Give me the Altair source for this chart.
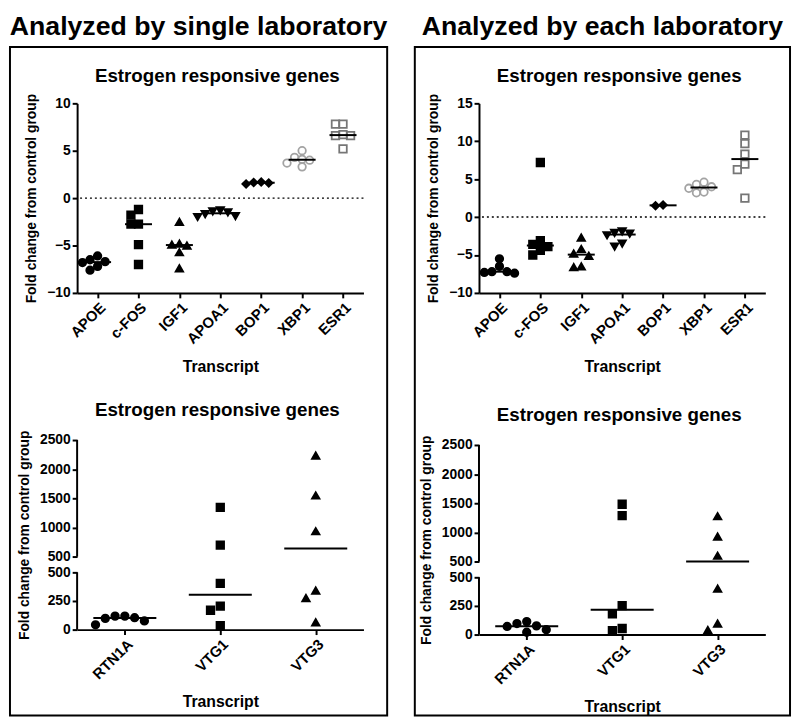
import json
import numpy as np
import pandas as pd
import altair as alt

FONT = "Liberation Sans"

# ---------------- data ----------------
genes_top = ["APOE", "c-FOS", "IGF1", "APOA1", "BOP1", "XBP1", "ESR1"]
genes_bot = ["RTN1A", "VTG1", "VTG3"]

single_apoe = [-6.1, -6.5, -6.7, -6.8, -7.2, -7.6]
single_cfos = [-1.2, -1.8, -2.75, -2.75, -4.9, -7.0]
single_igf1 = [-2.5, -4.8, -4.9, -5.0, -5.7, -7.4]
single_apoa1 = [-1.3, -1.4, -1.5, -1.7, -1.9, -2.0]
single_bop1 = [1.5, 1.6, 1.65, 1.7]
single_xbp1 = [5.0, 4.3, 4.1, 4.0, 3.7, 3.3]
single_esr1 = [7.8, 7.8, 6.7, 6.6, 6.6, 5.2]

each_apoe = [-5.5, -6.5, -7.2, -7.2, -7.3, -7.4]
each_cfos = [7.2, -3.1, -3.6, -3.9, -4.4, -5.0]
each_igf1 = [-2.7, -4.2, -4.8, -5.1, -6.5, -6.6]
each_apoa1 = [-1.9, -2.1, -2.2, -2.4, -3.5, -3.9]
each_bop1 = [1.5, 1.6]
each_xbp1 = [4.6, 4.3, 4.0, 3.8, 3.3, 3.2]
each_esr1 = [10.8, 9.7, 8.3, 7.0, 6.25, 2.5]

single_rtn1a = [118, 98, 42, 76, 104, 118]
single_vtg1 = [1343, 695, 403, 206, 169, 34]
single_vtg3 = [2235, 1549, 935, 341, 276, 64]

each_rtn1a = [96, 76, 20, 42, 71, 113]
each_vtg1 = [1483, 1289, 252, 181, 53, 34]
each_vtg3 = [1278, 928, 600, 401, 96, 40]

single_top = dict(zip(genes_top, [single_apoe, single_cfos, single_igf1, single_apoa1,
                                  single_bop1, single_xbp1, single_esr1]))
each_top = dict(zip(genes_top, [each_apoe, each_cfos, each_igf1, each_apoa1,
                                each_bop1, each_xbp1, each_esr1]))
single_bot = dict(zip(genes_bot, [single_rtn1a, single_vtg1, single_vtg3]))
each_bot = dict(zip(genes_bot, [each_rtn1a, each_vtg1, each_vtg3]))

top_ticks_single = [-10, -5, 0, 5, 10]
top_ticks_each = [-10, -5, 0, 5, 10, 15]
bot_lower_ticks = [0, 250, 500]
bot_upper_ticks = [500, 1000, 1500, 2000, 2500]

SUBTITLE = "Estrogen responsive genes"
YTITLE = "Fold change from control group"
XTITLE = "Transcript"

# ---------------- styling ----------------
top_shapes = ["circle", "square", "triangle-up", "triangle-down", "diamond", "circle", "square"]
top_fills = ["black", "black", "black", "black", "black", "transparent", "transparent"]
top_strokes = ["black", "black", "black", "black", "black", "#a3a3a3", "#767676"]
bot_shapes = ["circle", "square", "triangle-up"]
bot_fills = ["black", "black", "black"]
bot_strokes = ["black", "black", "black"]

W = 290
H = 192
D = 9.0  # marker diameter in px, used for the swarm layout


def swarm(vals, to_px, band, t):
    """Beeswarm offsets (in category units) so markers barely overlap."""
    order = sorted(range(len(vals)), key=lambda i: -vals[i])
    placed = []
    offs = [0.0] * len(vals)
    for i in order:
        y = to_px(vals[i])
        for k in [0, -1, 1, -2, 2, -3, 3, -4, 4]:
            x = k * t
            if all(abs(x - px) >= t * 0.99 or abs(y - py) >= t for px, py in placed):
                break
        placed.append((x, y))
        offs[i] = x / band
    return offs


def make_df(data, genes, to_px, t):
    band = W / len(genes)
    rows = []
    for i, g in enumerate(genes):
        vals = data[g]
        for v, o in zip(vals, swarm(vals, to_px, band, t)):
            rows.append({"gene": g, "idx": i, "value": v, "xpos": i + o})
    return pd.DataFrame(rows)


def xenc(field, genes):
    return alt.X(
        field,
        scale=alt.Scale(domain=[-0.5, len(genes) - 0.5], nice=False, zero=False),
        axis=alt.Axis(values=list(range(len(genes))),
                      labelExpr=json.dumps(genes) + "[datum.value]",
                      labelOverlap=False, labelBound=False,
                      labelAngle=-45, title=XTITLE, titlePadding=12),
    )


def one_row():
    return alt.Chart(alt.Data(values=[{"r": 1}]))


def subtitle_layer(dy):
    return one_row().mark_text(
        font=FONT, fontSize=19, fontWeight="bold", color="black",
        align="center", baseline="middle", clip=False
    ).encode(x=alt.value(W / 2 - 3), y=alt.value(dy), text=alt.value(SUBTITLE))


def layers(df, genes, yscale, yaxis, shapes, fills, strokes):
    def yenc(field):
        return alt.Y(field, scale=yscale, axis=yaxis)

    base = alt.Chart(df)
    pts = base.mark_point(size=58, strokeWidth=1.8, opacity=1).encode(
        x=xenc("xpos:Q", genes),
        y=yenc("value:Q"),
        shape=alt.Shape("gene:N", scale=alt.Scale(domain=genes, range=shapes), legend=None),
        fill=alt.Fill("gene:N", scale=alt.Scale(domain=genes, range=fills), legend=None),
        stroke=alt.Stroke("gene:N", scale=alt.Scale(domain=genes, range=strokes), legend=None),
    )
    med = base.transform_aggregate(
        med="median(value)", groupby=["gene", "idx"]
    ).transform_calculate(
        x0="datum.idx - 0.33", x1="datum.idx + 0.33"
    ).mark_rule(color="black", strokeWidth=2).encode(
        x=xenc("x0:Q", genes), x2="x1:Q", y=yenc("med:Q")
    )
    return pts, med, yenc


def box_layer(left, right, top, bottom):
    return one_row().mark_rect(
        fill="transparent", stroke="black", strokeWidth=2, clip=False
    ).encode(x=alt.value(left), x2=alt.value(right), y=alt.value(top), y2=alt.value(bottom))


def top_chart(data, ticks, box):
    lo, hi = ticks[0], ticks[-1]
    to_px = lambda v: float(np.interp(v, [lo, hi], [H, 0]))
    df = make_df(data, genes_top, to_px, D * 0.85)
    yscale = alt.Scale(domain=[lo, hi], nice=False, zero=False)
    yaxis = alt.Axis(values=ticks, title=YTITLE, titlePadding=8)
    pts, med, yenc = layers(df, genes_top, yscale, yaxis, top_shapes, top_fills, top_strokes)
    zero = one_row().mark_rule(
        color="black", strokeWidth=1.5, strokeDash=[2, 3]
    ).encode(y=yenc("z:Q")).transform_calculate(z="0")
    return alt.layer(zero, pts, med, subtitle_layer(-28), box).properties(width=W, height=H)


def bot_chart(data):
    dom = [bot_lower_ticks[0], bot_lower_ticks[-1], bot_upper_ticks[0] + 0.01, bot_upper_ticks[-1]]
    rng = [H, 134, 118, 0]
    to_px = lambda v: float(np.interp(v, dom, rng))
    df = make_df(data, genes_bot, to_px, D * 1.1)
    yscale = alt.Scale(domain=dom, range=rng, nice=False, zero=False)
    yaxis = alt.Axis(values=bot_lower_ticks + [dom[2]] + bot_upper_ticks[1:], format="d",
                     domain=False, labelOverlap=False, labelBound=False,
                     title=YTITLE, titlePadding=8)
    pts, med, yenc = layers(df, genes_bot, yscale, yaxis, bot_shapes, bot_fills, bot_strokes)
    segs = alt.Chart(alt.Data(values=[{"s0": dom[0], "s1": dom[1]},
                                      {"s0": dom[2], "s1": dom[3]}])).mark_rule(
        color="black", strokeWidth=2
    ).encode(x=alt.value(0), y=yenc("s0:Q"), y2="s1:Q")
    return alt.layer(segs, pts, med, subtitle_layer(-30)).properties(width=W, height=H)


def column(title, top, bot, spacing):
    return alt.vconcat(
        top, bot, spacing=spacing, bounds="flush",
        title=alt.TitleParams(title, font=FONT, fontSize=27, fontWeight="bold",
                              color="black", anchor="middle", offset=5),
    )


left = column("Analyzed by single laboratory",
              top_chart(single_top, top_ticks_single, box_layer(-68, W + 24, -57, 620)),
              bot_chart(single_bot), 149)
right = column("Analyzed by each laboratory",
               top_chart(each_top, top_ticks_each, box_layer(-65, W + 25, -57, 620)),
               bot_chart(each_bot), 154)

chart = alt.hconcat(left, right, spacing=24).properties(
    padding={"left": 0, "top": 0, "right": 0, "bottom": 0}
).configure_view(stroke="transparent").configure_axis(
    domainColor="black", domainWidth=2, tickColor="black", tickWidth=2, tickSize=5,
    labelFont=FONT, labelFontSize=14, labelFontWeight="bold", labelColor="black",
    titleFont=FONT, titleFontWeight="bold", titleColor="black", grid=False, labelPadding=2,
).configure_axisY(titleFontSize=14).configure_axisX(titleFontSize=16, labelFontSize=15)

chart.save("out.html", embed_options={"renderer": "svg", "actions": False})
